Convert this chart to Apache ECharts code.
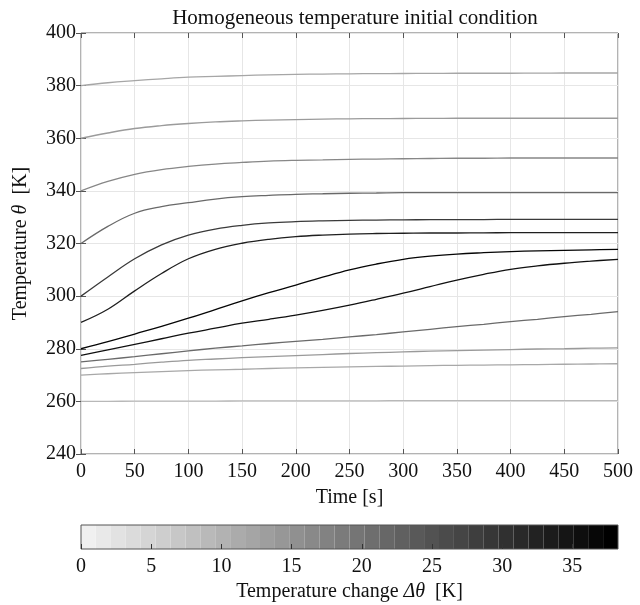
<!DOCTYPE html>
<html>
<head>
<meta charset="utf-8">
<script src="https://cdn.jsdelivr.net/npm/echarts@6/dist/echarts.min.js"></script>
<style>html,body{margin:0;background:#fff}#chart{width:640px;height:605px}</style>
</head>
<body>
<div id="chart"></div>
<script>
// time samples [s]
const times = [0, 25, 50, 75, 100, 125, 150, 175, 200, 225, 250, 275, 300, 325, 350, 375, 400, 425, 450, 475, 500];

// temperature of each run [K], named after its initial temperature
const run380 = [380, 381.1, 381.9, 382.6, 383.2, 383.5, 383.8, 384.1, 384.3, 384.4, 384.5, 384.55, 384.6, 384.65, 384.7, 384.7, 384.7, 384.75, 384.8, 384.8, 384.8];
const run360 = [360, 362.0, 363.7, 364.8, 365.6, 366.2, 366.6, 366.9, 367.1, 367.3, 367.4, 367.45, 367.5, 367.55, 367.6, 367.6, 367.6, 367.6, 367.6, 367.6, 367.6];
const run340 = [340, 343.6, 346.3, 348.1, 349.3, 350.2, 350.8, 351.3, 351.6, 351.8, 352.0, 352.1, 352.2, 352.3, 352.4, 352.4, 352.5, 352.5, 352.5, 352.5, 352.5];
const run320 = [320, 326.5, 331.5, 334.0, 335.5, 336.9, 337.8, 338.3, 338.7, 338.9, 339.1, 339.2, 339.3, 339.3, 339.3, 339.3, 339.3, 339.3, 339.3, 339.3, 339.3];
const run300 = [300, 307.3, 314.2, 319.5, 323.2, 325.5, 326.9, 327.8, 328.3, 328.6, 328.8, 328.9, 329.0, 329.05, 329.1, 329.1, 329.2, 329.2, 329.2, 329.2, 329.2];
const run290 = [290, 295.0, 302.0, 308.6, 314.2, 317.8, 320.1, 321.6, 322.6, 323.2, 323.6, 323.8, 323.9, 324.0, 324.0, 324.05, 324.1, 324.1, 324.1, 324.1, 324.1];
const run280 = [280, 282.7, 285.6, 288.5, 291.6, 294.9, 298.2, 301.3, 304.2, 307.2, 310.0, 312.2, 314.0, 315.2, 316.0, 316.5, 316.9, 317.2, 317.4, 317.6, 317.8];
const run277 = [277.5, 279.6, 281.7, 283.8, 285.9, 287.8, 289.7, 291.2, 292.8, 294.6, 296.6, 298.8, 301.1, 303.6, 306.1, 308.3, 310.2, 311.5, 312.5, 313.3, 314.0];
const run275 = [275, 276.0, 277.0, 278.1, 279.2, 280.2, 281.1, 282.0, 282.8, 283.6, 284.5, 285.4, 286.4, 287.4, 288.4, 289.3, 290.3, 291.2, 292.2, 293.1, 294.1];
const run272 = [272.5, 273.4, 274.1, 274.9, 275.6, 276.1, 276.6, 277.0, 277.4, 277.8, 278.2, 278.5, 278.8, 279.1, 279.3, 279.5, 279.7, 279.9, 280.0, 280.2, 280.3];
const run270 = [270, 270.5, 270.9, 271.3, 271.7, 272.0, 272.2, 272.5, 272.7, 272.9, 273.1, 273.3, 273.4, 273.6, 273.7, 273.8, 273.9, 274.0, 274.1, 274.2, 274.3];
const run260 = [260, 260.0, 260.1, 260.1, 260.1, 260.1, 260.2, 260.2, 260.2, 260.2, 260.2, 260.2, 260.3, 260.3, 260.3, 260.3, 260.3, 260.3, 260.3, 260.3, 260.3];

const runs = [run260, run270, run272, run275, run380, run360, run340, run320, run277, run300, run290, run280];

// colorbar
const cbarMax = 38.25;
const cbarSteps = 36;

const font = 'Liberation Serif';
const chart = echarts.init(document.getElementById('chart'));

// grey level of a run from its temperature change
function lineColor(d) {
  const g = Math.round(185 * Math.pow(Math.max(0, 1 - d / cbarMax), 0.8));
  return 'rgb(' + g + ',' + g + ',' + g + ')';
}
function bandColor(i) {
  const g = Math.round(240 * (1 - i / (cbarSteps - 1)));
  return 'rgb(' + g + ',' + g + ',' + g + ')';
}

const series = runs.map(r => ({
  type: 'line',
  xAxisIndex: 0,
  yAxisIndex: 0,
  data: times.map((t, i) => [t, r[i]]),
  smooth: 0.4,
  showSymbol: false,
  silent: true,
  lineStyle: { width: 1.3, color: lineColor(r[r.length - 1] - r[0]) }
}));

const bands = [];
for (let i = 0; i < cbarSteps; i++) bands.push({ value: 1, itemStyle: { color: bandColor(i) } });
series.push({
  type: 'bar',
  xAxisIndex: 2,
  yAxisIndex: 2,
  data: bands,
  barWidth: '100%',
  barCategoryGap: 0,
  silent: true
});

const tick = { inside: true, length: 5, lineStyle: { color: '#555' } };
const label = { fontFamily: font, fontSize: 20, color: '#111' };

chart.setOption({
  animation: false,
  title: {
    text: 'Homogeneous temperature initial condition',
    left: 350, top: 3, textAlign: 'center',
    textStyle: { fontFamily: font, fontSize: 21, fontWeight: 'normal', color: '#111' }
  },
  grid: [
    { left: 81, right: 22, top: 33, height: 421, show: true, borderColor: '#666', borderWidth: 1 },
    { left: 81, right: 22, top: 525, height: 24, show: true, borderColor: '#555', borderWidth: 1, z: 5 }
  ],
  xAxis: [
    {
      gridIndex: 0, type: 'value', position: 'bottom', min: 0, max: 500, interval: 50,
      name: 'Time [s]', nameLocation: 'middle', nameGap: 34,
      nameTextStyle: label,
      axisLine: { show: false }, axisTick: tick,
      axisLabel: Object.assign({ margin: 8 }, label),
      splitLine: { lineStyle: { color: '#e6e6e6' } }
    },
    {
      gridIndex: 0, type: 'value', position: 'top', min: 0, max: 500, interval: 50,
      axisLine: { show: false }, axisTick: tick, axisLabel: { show: false }, splitLine: { show: false }
    },
    {
      gridIndex: 1, type: 'category', position: 'top', data: bands.map((b, i) => i),
      show: false
    },
    {
      gridIndex: 1, type: 'value', position: 'bottom', min: 0, max: cbarMax, interval: 5,
      name: '{a|Temperature change }{i|Δθ}{a|  [K]}', nameLocation: 'middle', nameGap: 33,
      nameTextStyle: { rich: { a: label, i: Object.assign({ fontStyle: 'italic' }, label) } },
      axisLine: { show: false },
      axisTick: { inside: true, length: 5, lineStyle: { color: '#333' } },
      axisLabel: Object.assign({ margin: 8, showMaxLabel: false }, label),
      splitLine: { show: false }, z: 10
    }
  ],
  yAxis: [
    {
      gridIndex: 0, type: 'value', min: 240, max: 400, interval: 20,
      name: '{a|Temperature }{i|θ}{a|  [K]}', nameLocation: 'middle', nameGap: 50,
      nameTextStyle: { rich: { a: label, i: Object.assign({ fontStyle: 'italic' }, label) } },
      axisLine: { show: false }, axisTick: tick,
      axisLabel: Object.assign({ margin: 5 }, label),
      splitLine: { lineStyle: { color: '#e6e6e6' } }
    },
    {
      gridIndex: 0, type: 'value', position: 'right', min: 240, max: 400, interval: 20,
      axisLine: { show: false }, axisTick: tick, axisLabel: { show: false }, splitLine: { show: false }
    },
    { gridIndex: 1, type: 'value', min: 0, max: 1, show: false }
  ],
  series: series
});
</script>
</body>
</html>
